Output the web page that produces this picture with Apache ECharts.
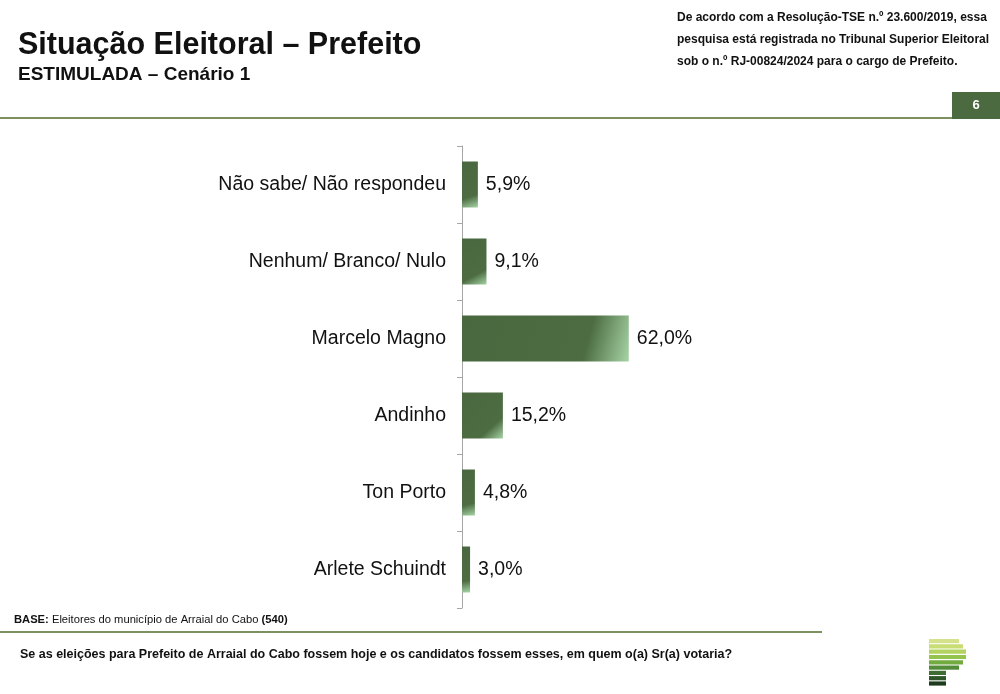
<!DOCTYPE html>
<html>
<head>
<meta charset="utf-8">
<script src="https://cdn.jsdelivr.net/npm/echarts@6/dist/echarts.min.js"></script>
<style>
html,body{margin:0;padding:0;background:#fff;}
#chart{width:1000px;height:694px;}
</style>
</head>
<body>
<div id="chart"></div>
<script>
const categories = ["Não sabe/ Não respondeu", "Nenhum/ Branco/ Nulo", "Marcelo Magno", "Andinho", "Ton Porto", "Arlete Schuindt"];
const values = [5.9, 9.1, 62.0, 15.2, 4.8, 3.0];
const titleText = "Situação Eleitoral – Prefeito";
const subtitleText = "ESTIMULADA – Cenário 1";
const noteLines = [
  "De acordo com a Resolução-TSE n.º 23.600/2019, essa",
  "pesquisa está registrada no Tribunal Superior Eleitoral",
  "sob o n.º RJ-00824/2024 para o cargo de Prefeito."
];
const pageNumber = "6";
const questionText = "Se as eleições para Prefeito de Arraial do Cabo fossem hoje e os candidatos fossem esses, em quem o(a) Sr(a) votaria?";
const logoColors = ["#d6e18c", "#c8dd74", "#b2d35f", "#94c44d", "#74ab41", "#548d39", "#3f6c30", "#2e5428", "#1e3b1e"];
const logoWidths = [30, 34, 37, 37, 34, 30, 17, 17, 17];

const chart = echarts.init(document.getElementById('chart'));
const FONT = '"Liberation Sans", Arial, sans-serif';

function txt(x, y, text, size, weight, extra) {
  return Object.assign({ type: 'text', x: x, y: y, style: Object.assign({
    text: text, fontFamily: FONT, fontSize: size, fontWeight: weight, fill: '#111', verticalAlign: 'middle'
  }, extra || {}) });
}

const graphics = [
  txt(18, 46, titleText, 30.5, 'bold'),
  txt(18, 75, subtitleText, 19, 'bold'),
  { type: 'rect', shape: { x: 0, y: 117, width: 952, height: 2 }, style: { fill: '#7d9160' } },
  { type: 'rect', shape: { x: 952, y: 92, width: 48, height: 27 }, style: { fill: '#4b6a3f' } },
  txt(976, 105, pageNumber, 13, 'bold', { fill: '#fff', align: 'center' }),
  txt(14, 620, '{b|BASE:} Eleitores do município de Arraial do Cabo {b|(540)}', 11.2, 'normal', {
    rich: { b: { fontFamily: FONT, fontSize: 11.2, fontWeight: 'bold', fill: '#111' } } }),
  { type: 'rect', shape: { x: 0, y: 631, width: 822, height: 2 }, style: { fill: '#7d9160' } },
  txt(20, 655, questionText, 12.5, 'bold')
];
noteLines.forEach((t, i) => {
  graphics.push(txt(677, 18 + i * 22, t, 12, 'bold'));
});
logoColors.forEach((c, i) => {
  graphics.push({ type: 'rect', shape: { x: 929, y: 639 + i * 5.3, width: logoWidths[i], height: 4.2 }, style: { fill: c } });
});

chart.setOption({
  animation: false,
  backgroundColor: '#fff',
  graphic: graphics,
  grid: { left: 462, top: 146, width: 269, height: 462, containLabel: false },
  xAxis: { type: 'value', min: 0, max: 100, show: false },
  yAxis: {
    type: 'category', data: categories, inverse: true,
    axisLine: { lineStyle: { color: '#a6a6a6', width: 1 } },
    axisTick: { show: true, inside: false, length: 5, lineStyle: { color: '#a6a6a6' } },
    axisLabel: { fontFamily: FONT, fontSize: 19.5, color: '#111', margin: 16 }
  },
  series: [{
    type: 'bar',
    data: values,
    barWidth: 46,
    itemStyle: {
      color: new echarts.graphic.LinearGradient(0, 0, 1, 1, [
        { offset: 0, color: '#4a683f' },
        { offset: 0.74, color: '#4d6c42' },
        { offset: 1, color: '#a6d4a6' }
      ])
    },
    label: {
      show: true, position: 'right', distance: 8,
      fontFamily: FONT, fontSize: 19.5, color: '#111',
      formatter: p => p.value.toFixed(1).replace('.', ',') + '%'
    }
  }]
});
</script>
</body>
</html>
